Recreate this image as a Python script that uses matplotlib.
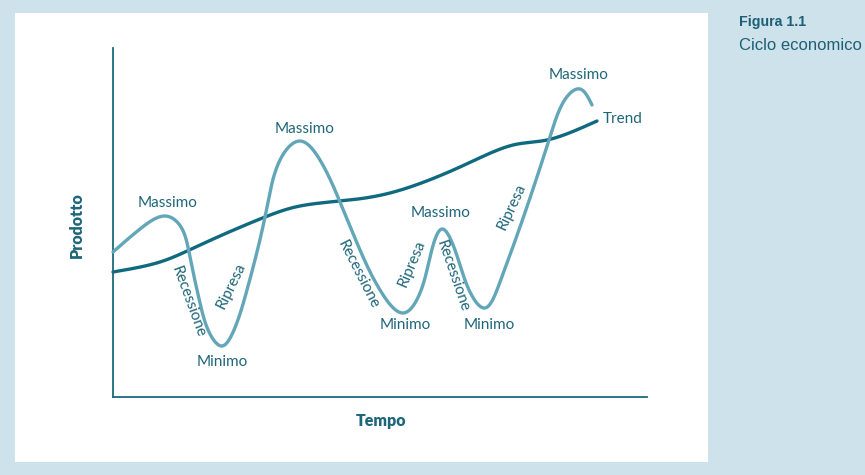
import numpy as np
import matplotlib
matplotlib.use("Agg")
import matplotlib.pyplot as plt
from matplotlib.patches import Rectangle

# ---- data (time, output) ----
cycle_t = [0, 27, 52, 68, 77, 87, 97, 109, 121, 134, 152, 167, 187, 207, 227, 247, 267,
           290, 307, 318, 329, 342, 357, 372, 387, 407, 435, 453, 467, 479]
cycle_y = [145, 168, 181, 170, 140, 94, 63, 51, 67, 107, 180, 237, 256, 237, 195, 147, 107,
           84, 104, 144, 168, 147, 105, 89, 115, 170, 254, 299, 308, 292]

trend_t = [0, 47, 87, 152, 187, 227, 277, 347, 400, 434, 484]
trend_y = [125, 135, 152, 180, 191, 196, 204, 230, 252, 257, 276]

peak_labels = ["Massimo", "Massimo", "Massimo", "Massimo"]
peak_pos = [(55, 194), (192, 268), (328, 184), (466, 322)]
trough_labels = ["Minimo", "Minimo", "Minimo"]
trough_pos = [(109, 35), (292, 72), (376, 72)]
phase_labels = ["Recessione", "Ripresa", "Recessione", "Ripresa", "Recessione", "Ripresa"]
phase_pos = [(75, 95), (118, 111), (245, 122), (299, 134), (340, 121), (399, 190)]
phase_rot = [-70, 64, -63, 67, -71, 65]
trend_label = "Trend"
trend_label_pos = (490, 278)
x_label = "Tempo"
y_label = "Prodotto"
fig_title = "Figura 1.1"
fig_subtitle = "Ciclo economico"


def _natural_spline(s, v, ss):
    n = len(s)
    h = np.diff(s)
    A = np.zeros((n, n))
    r = np.zeros(n)
    A[0, 0] = A[-1, -1] = 1.0
    for i in range(1, n - 1):
        A[i, i - 1] = h[i - 1]
        A[i, i] = 2 * (h[i - 1] + h[i])
        A[i, i + 1] = h[i]
        r[i] = 6 * ((v[i + 1] - v[i]) / h[i] - (v[i] - v[i - 1]) / h[i - 1])
    M = np.linalg.solve(A, r)
    idx = np.clip(np.searchsorted(s, ss) - 1, 0, n - 2)
    s0, s1 = s[idx], s[idx + 1]
    hh = s1 - s0
    a = (s1 - ss) / hh
    b = (ss - s0) / hh
    return (a * v[idx] + b * v[idx + 1]
            + ((a ** 3 - a) * M[idx] + (b ** 3 - b) * M[idx + 1]) * hh ** 2 / 6)


def smooth(x, y, n=1500, alpha=0.5):
    """Parametric natural cubic spline through the given points (rendering only)."""
    x = np.asarray(x, float)
    y = np.asarray(y, float)
    d = np.hypot(np.diff(x), np.diff(y)) ** alpha
    s = np.concatenate([[0], np.cumsum(d)])
    ss = np.linspace(0, s[-1], n)
    return _natural_spline(s, x, ss), _natural_spline(s, y, ss)


W, H = 865, 475
BG = "#cde2ea"
TEXT = "#1e6679"
CYCLE = "#62a6b8"
TREND = "#0f6a80"
SPINE = "#1b6a7d"
FONT = "Lato"

fig = plt.figure(figsize=(W / 100, H / 100), dpi=100, facecolor=BG)
fig.patches.append(Rectangle((15 / W, 1 - 462 / H), (708 - 15) / W, (462 - 13) / H,
                             transform=fig.transFigure, facecolor="white",
                             edgecolor="none", zorder=-10))

ax = fig.add_axes([113 / W, 1 - 397 / H, 534 / W, 349 / H])
ax.set_zorder(5)
ax.set_facecolor("none")
ax.set_xlim(0, 534)
ax.set_ylim(0, 349)
for s in ["top", "right"]:
    ax.spines[s].set_visible(False)
for s in ["left", "bottom"]:
    ax.spines[s].set_color(SPINE)
    ax.spines[s].set_linewidth(1.3)
ax.set_xticks([])
ax.set_yticks([])

tx, ty = smooth(trend_t, trend_y)
ax.plot(tx, ty, color=TREND, lw=2.4, solid_capstyle="round", clip_on=False, zorder=2)
cx, cy = smooth(cycle_t, cycle_y)
ax.plot(cx, cy, color=CYCLE, lw=2.4, solid_capstyle="round", clip_on=False, zorder=3)

fs = 11
for lab, (x, y) in zip(peak_labels, peak_pos):
    ax.text(x, y, lab, ha="center", va="center", fontsize=fs, color=TEXT, family=FONT)
for lab, (x, y) in zip(trough_labels, trough_pos):
    ax.text(x, y, lab, ha="center", va="center", fontsize=fs, color=TEXT, family=FONT)
for lab, (x, y), r in zip(phase_labels, phase_pos, phase_rot):
    ax.text(x, y, lab, ha="center", va="center", rotation=r, rotation_mode="anchor",
            fontsize=fs, color=TEXT, family=FONT)
ax.text(trend_label_pos[0], trend_label_pos[1], trend_label, ha="left", va="center",
        fontsize=fs, color=TEXT, family=FONT)

fig.text(381 / W, 1 - 421 / H, x_label, ha="center", va="center", fontsize=11.5,
         fontweight="heavy", color=TEXT, family=FONT)
fig.text(77 / W, 1 - 225 / H, y_label, ha="center", va="center", rotation=90,
         fontsize=11.5, fontweight="heavy", color=TEXT, family=FONT)

fig.text(739 / W, 1 - 22 / H, fig_title, ha="left", va="center", fontsize=10.2,
         fontweight="bold", color="#1d5f76", family="Liberation Sans")
fig.text(739 / W, 1 - 45 / H, fig_subtitle, ha="left", va="center", fontsize=12,
         color="#1d5f76", family="Liberation Sans")

fig.savefig("out.png", dpi=100, facecolor=BG)
